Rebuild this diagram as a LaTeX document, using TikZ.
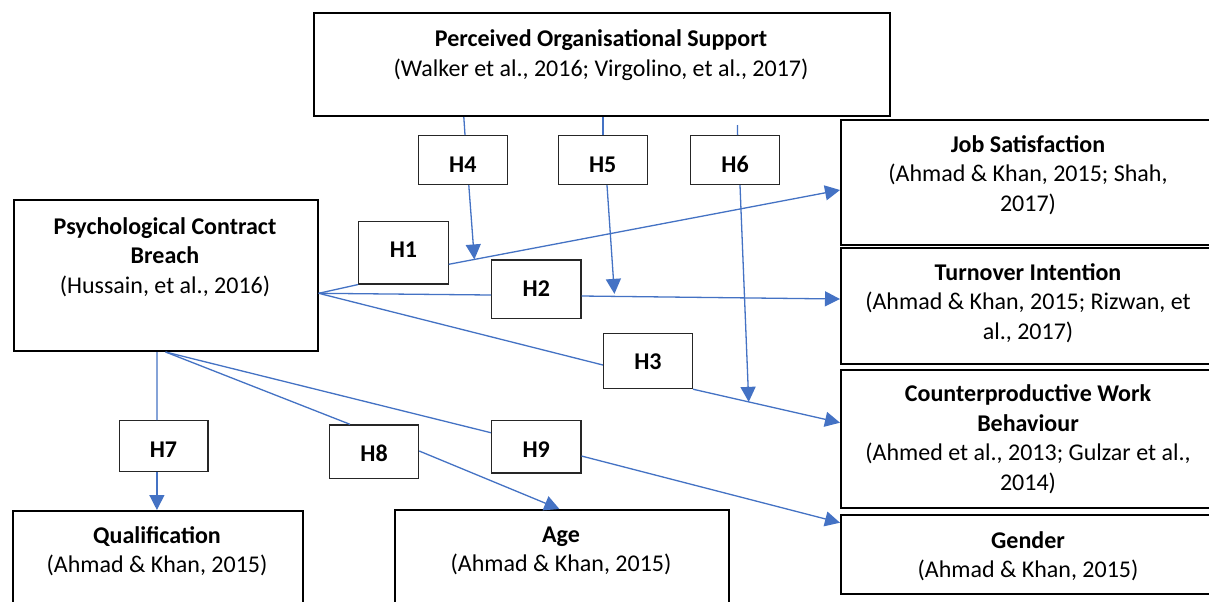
\documentclass[tikz,border=0pt]{standalone}
\usepackage{fontspec}
\setmainfont{Carlito}
\usetikzlibrary{arrows.meta,calc}
\definecolor{connblue}{HTML}{4472C4}
\begin{document}
\begin{tikzpicture}[x=0.5pt,y=-0.5pt,
  box/.style={draw=black, line width=1pt, inner sep=0pt, anchor=north west},
  hyp/.style={draw=black!85, line width=0.6pt, inner sep=0pt, anchor=north west,
    text height=18.25pt, font=\fontsize{12}{14.75}\selectfont\bfseries},
  txt/.style={inner sep=0pt, align=center, anchor=base, font=\fontsize{12}{14.75}\selectfont},
  conn/.style={draw=connblue, line width=0.65pt},
  arr/.style={conn, -{Triangle[length=7.5pt,width=7.5pt]}}]
\useasboundingbox[fill=white] (0,0) rectangle (1209,601);

% main boxes
\node[box, minimum width=288.35pt, minimum height=51.35pt] (pos) at (312.6,12.3) {};
\node[box, minimum width=152pt, minimum height=75.35pt] (pcb) at (12.7,199.3) {};
\node[box, minimum width=190pt, minimum height=62.65pt] (js) at (840,119) {};
\node[box, minimum width=190pt, minimum height=58.3pt] (ti) at (840,246.7) {};
\node[box, minimum width=190pt, minimum height=69pt] (cwb) at (840,369.3) {};
\node[box, minimum width=190pt, minimum height=39.2pt] (gen) at (840,514.3) {};
\node[box, minimum width=144.8pt, minimum height=55pt] (qual) at (12,510) {};
\node[box, minimum width=167.3pt, minimum height=55pt] (age) at (393.8,509) {};

% texts (anchor base = baseline of the last line)
\node[txt] (posT) at (601,76) {\textbf{Perceived Organisational Support}\\(Walker et al., 2016; Virgolino, et al., 2017)};
\node[txt] (pcbT) at (165,293) {\textbf{Psychological Contract}\\\textbf{Breach}\\(Hussain, et al., 2016)};
\node[txt] (jsT) at (1028,211) {\textbf{Job Satisfaction}\\(Ahmad \& Khan, 2015; Shah,\\2017)};
\node[txt] (tiT) at (1028,339) {\textbf{Turnover Intention}\\(Ahmad \& Khan, 2015; Rizwan, et\\al., 2017)};
\node[txt] (cwbT) at (1028,490.2) {\textbf{Counterproductive Work}\\\textbf{Behaviour}\\(Ahmed et al., 2013; Gulzar et al.,\\2014)};
\node[txt] (genT) at (1028,577.5) {\textbf{Gender}\\(Ahmad \& Khan, 2015)};
\node[txt] (qualT) at (157,572.5) {\textbf{Qualification}\\(Ahmad \& Khan, 2015)};
\node[txt] (ageT) at (561,571.5) {\textbf{Age}\\(Ahmad \& Khan, 2015)};

% hypothesis boxes
\node[hyp, minimum width=44.65pt, text depth=13.05pt] (H1) at (358.2,220.7) {H1};
\node[hyp, minimum width=44.7pt, text depth=10.95pt] (H2) at (491,259.3) {H2};
\node[hyp, minimum width=44.45pt, text depth=9.4pt] (H3) at (602.9,332.7) {H3};
\node[hyp, minimum width=44.75pt, text depth=6.25pt] (H4) at (417.5,135) {H4};
\node[hyp, minimum width=44.6pt, text depth=6.25pt] (H5) at (557.5,135) {H5};
\node[hyp, minimum width=44.5pt, text depth=6.25pt] (H6) at (690,135) {H6};
\node[hyp, minimum width=44.4pt, text depth=7.25pt] (H7) at (118.5,420) {H7};
\node[hyp, minimum width=44.5pt, text depth=8.45pt] (H8) at (329,424.3) {H8};
\node[hyp, minimum width=44.7pt, text depth=7.9pt] (H9) at (490.9,420) {H9};

% connection points
\coordinate (pcbE) at ($(pcb.north east)+(0,94)$);
\coordinate (H1e) at ($(H1.north east)+(0,43.6)$);
\coordinate (jsIn) at ($(js.north west)+(0,71)$);
\coordinate (H2w) at ($(H2.north west)+(0,35.7)$);
\coordinate (H2e) at ($(H2.north east)+(0,36.7)$);
\coordinate (tiIn) at ($(ti.north west)+(0,52.3)$);
\coordinate (H3w) at ($(H3.north west)+(0,32.3)$);
\coordinate (cwbIn) at ($(cwb.north west)+(0,53.4)$);

% H1-H3
\draw[conn] (pcbE) -- (H1.south west);
\draw[arr] (H1e) -- (jsIn);
\draw[conn] (pcbE) -- (H2w);
\draw[arr] (H2e) -- (tiIn);
\draw[conn] (pcbE) -- (H3w);
\draw[arr] (H3.south east) -- (cwbIn);

% H4-H6
\coordinate (h4tip) at ($(H1e)!0.0656!(jsIn)$);
\coordinate (h5tip) at ($(H2e)!0.127!(tiIn)+(0,-2.5)$);
\coordinate (h6tip) at ($(H3.south east)!0.379!(cwbIn)$);
\coordinate (h6top) at ($(pos.south west)+(424.8,8)$);
\draw[conn] ($(pos.south west)+(151.2,0)$) -- ($(H4.north west)+(47.5,0)$);
\draw[arr] ($(H4.south west)+(51.3,0)$) -- (h4tip);
\draw[conn] ($(pos.south west)+(290.4,0)$) -- ($(H5.north west)+(45.5,0)$);
\draw[arr] ($(H5.south west)+(49.5,0)$) -- (h5tip);
\draw[conn] (h6top) -- ($(H6.north west)+(47.6,0)$);
\draw[arr] ($(H6.south west)+(50,0)$) -- (h6tip);

% H7-H9
\coordinate (pcbS1) at ($(pcb.south west)+(144.2,0)$);
\coordinate (pcbS2) at ($(pcb.south west)+(152.9,0)$);
\draw[conn] (pcbS1) -- ($(H7.north west)+(38.4,0)$);
\draw[arr] ($(H7.south west)+(38.4,0)$) -- ($(qual.north west)+(144.9,0)$);
\draw[conn] (pcbS2) -- ($(H8.north west)+(21,0)$);
\draw[arr] ($(H8.north east)+(0,26.7)$) -- ($(age.north west)+(165.6,0)$);
\draw[conn] (pcbS2) -- ($(H9.north west)+(0,12.7)$);
\draw[arr] ($(H9.north east)+(0,36)$) -- ($(gen.north west)+(0,8.4)$);
\end{tikzpicture}
\end{document}
